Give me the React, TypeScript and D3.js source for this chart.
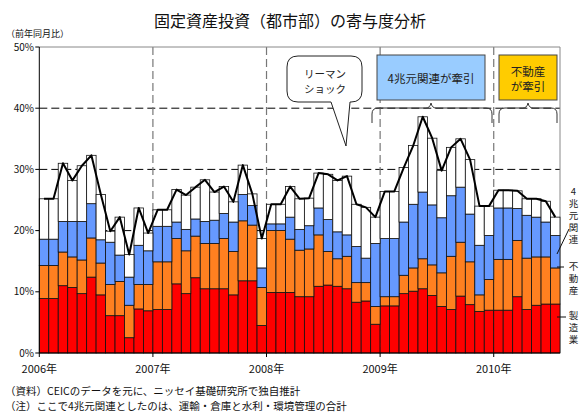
import React from 'react';
import * as d3 from 'd3';

// 年ラベル
const years = ['2006', '2007', '2008', '2009', '2010'];
const yearLabels = ['2006年', '2007年', '2008年', '2009年', '2010年'];
const yTicks = [0, 10, 20, 30, 40, 50];

// 寄与度（%ポイント）, 2006年1月〜2010年7月
const manufacturing = [
  8.9, 8.9, 11.0, 10.7, 9.7, 12.4, 9.5, 6.1, 6.1, 2.5, 7.2, 6.9,
  7.1, 7.1, 11.3, 9.7, 12.3, 10.5, 10.5, 10.5, 9.5, 11.8, 11.8, 4.5,
  9.9, 9.9, 9.9, 9.2, 9.2, 10.9, 11.1, 10.9, 10.5, 8.3, 8.5, 4.7,
  7.7, 7.7, 9.7, 10.1, 10.5, 9.4, 7.6, 7.1, 9.3, 7.9, 6.8, 7.0,
  7.0, 7.0, 9.2, 7.1, 7.8, 8.0, 8.0,
];
const realEstate = [
  5.4, 5.4, 5.5, 5.0, 5.5, 6.4, 5.2, 5.1, 5.6, 5.3, 4.0, 4.3,
  7.8, 7.8, 7.4, 7.0, 6.8, 7.4, 7.4, 8.2, 7.1, 9.8, 9.1, 6.2,
  10.1, 10.1, 8.7, 7.6, 7.8, 8.4, 5.5, 4.5, 5.3, 3.2, 3.0, 2.9,
  1.5, 1.5, 3.0, 3.8, 4.9, 5.0, 5.5, 8.7, 8.8, 7.0, 2.7, 5.0,
  8.3, 8.3, 9.2, 8.4, 7.9, 7.7, 5.9,
];
const fourTrillion = [
  4.3, 4.3, 5.0, 5.8, 6.3, 5.6, 3.8, 6.9, 4.3, 4.6, 6.4, 5.5,
  5.8, 5.8, 2.7, 3.5, 2.8, 3.6, 3.8, 4.1, 4.8, 4.3, 3.2, 3.2,
  1.1, 1.1, 3.6, 3.4, 3.8, 4.4, 5.2, 4.4, 3.5, 5.9, 4.0, 10.3,
  9.5, 9.5, 8.7, 10.4, 10.9, 9.8, 9.0, 9.9, 9.0, 7.8, 8.1, 7.2,
  8.4, 8.4, 5.2, 7.0, 6.5, 5.7, 5.3,
];
const other = [
  6.6, 6.6, 9.5, 6.7, 9.1, 7.9, 7.4, 1.8, 6.2, 3.7, 6.1, 2.9,
  2.7, 2.7, 5.3, 5.6, 5.2, 6.8, 4.6, 4.4, 3.3, 4.8, 1.9, 4.8,
  3.2, 3.2, 5.0, 5.0, 4.5, 5.7, 7.4, 8.4, 9.6, 6.9, 8.3, 4.3,
  7.7, 7.7, 8.9, 9.6, 12.3, 10.9, 7.7, 7.9, 7.9, 8.9, 6.4, 4.8,
  2.9, 2.9, 2.9, 2.7, 3.0, 3.4, 3.0,
];

const keys = ['manufacturing', 'realEstate', 'fourTrillion', 'other'];
const colors: Record<string, string> = {
  manufacturing: '#FF0000',
  realEstate: '#FF8020',
  fourTrillion: '#6699FF',
  other: '#FFFFFF',
};
// 右側の系列名（縦書き）
const sideLabels = [
  { text: '4兆元関連', y: 187 },
  { text: '不動産', y: 262 },
  { text: '製造業', y: 311 },
];

const months: string[] = [];
years.forEach((y) => {
  for (let m = 1; m <= 12; m++) months.push(`${y}-${m}`);
});
const monthKeys = months.slice(0, manufacturing.length);

const rows = monthKeys.map((k, i) => ({
  month: k,
  manufacturing: manufacturing[i],
  realEstate: realEstate[i],
  fourTrillion: fourTrillion[i],
  other: other[i],
}));

const FONT = '"Noto Sans CJK JP", "Noto Sans", sans-serif';

export default function App() {
  const width = 579;
  const height = 412;
  const margin = { top: 47, right: 19, bottom: 59, left: 39.3 };
  const plotRight = width - margin.right;
  const plotBottom = height - margin.bottom;

  const xScale = d3
    .scaleBand()
    .domain(monthKeys)
    .range([margin.left, plotRight])
    .padding(0);
  const yScale = d3.scaleLinear().domain([0, 50]).range([plotBottom, margin.top]);

  const stacked = d3.stack<any>().keys(keys)(rows);
  const totals = rows.map((r) => r.manufacturing + r.realEstate + r.fourTrillion + r.other);

  const line = d3
    .line<number>()
    .x((_, i) => (xScale(monthKeys[i]) as number) + xScale.bandwidth() / 2)
    .y((d) => yScale(d));

  const yearX = years.map((y) => xScale(`${y}-1`) as number);

  // 吹き出し
  const bx0 = 287, by0 = 56, bx1 = 362, by1 = 102, br = 11;
  const bubble = `M${bx0 + br},${by0} H${bx1 - br} Q${bx1},${by0} ${bx1},${by0 + br} V${by1 - br} Q${bx1},${by1} ${bx1 - br},${by1} H350 L346,146 L331,${by1} H${bx0 + br} Q${bx0},${by1} ${bx0},${by1 - br} V${by0 + br} Q${bx0},${by0} ${bx0 + br},${by0} Z`;

  const brace = (a: number, b: number, c: number, y: number) =>
    `M${a},${y + 15} L${a},${y + 6} Q${a},${y} ${a + 6},${y} L${c - 5},${y} Q${c - 1},${y} ${c},${y - 5} Q${c + 1},${y} ${c + 5},${y} L${b - 6},${y} Q${b},${y} ${b},${y + 6} L${b},${y + 15}`;

  return (
    <svg width={width} height={height} style={{ display: 'block', position: 'absolute', left: 0, top: 0 }} fontFamily={FONT}>
      <rect width={width} height={height} fill="#fff" />
      <text x={290} y={27} textAnchor="middle" fontSize={16} fill="#111">
        固定資産投資（都市部）の寄与度分析
      </text>
      <text x={6} y={37} fontSize={9} fill="#111">
        （前年同月比）
      </text>

      {/* 横グリッド */}
      {yTicks.filter((t) => t > 0 && t < 50).map((t) => (
        <line key={t} x1={margin.left} x2={plotRight} y1={yScale(t)} y2={yScale(t)} stroke="#000" strokeWidth={1} strokeDasharray="8,4" />
      ))}
      {/* 年の区切り */}
      {yearX.slice(1).map((x, i) => (
        <line key={i} x1={x} x2={x} y1={margin.top} y2={plotBottom} stroke="#777" strokeWidth={1.2} strokeDasharray="8,4" />
      ))}
      <line x1={margin.left} x2={plotRight} y1={margin.top} y2={margin.top} stroke="#888" />
      <line x1={plotRight} x2={plotRight} y1={margin.top} y2={plotBottom} stroke="#888" />

      {/* 積み上げ棒 */}
      {stacked.map((s) => (
        <g key={s.key} fill={colors[s.key]}>
          {s.map((d, i) => (
            <rect
              key={i}
              x={xScale(monthKeys[i])}
              y={yScale(d[1])}
              width={xScale.bandwidth()}
              height={yScale(d[0]) - yScale(d[1])}
              stroke="#111"
              strokeWidth={0.8}
            />
          ))}
        </g>
      ))}

      <path d={line(totals) || ''} fill="none" stroke="#000" strokeWidth={2} strokeLinejoin="round" />

      {/* 軸 */}
      <line x1={margin.left} x2={margin.left} y1={margin.top} y2={plotBottom} stroke="#000" />
      <line x1={margin.left} x2={plotRight} y1={plotBottom} y2={plotBottom} stroke="#000" />
      {yTicks.map((t) => (
        <g key={t}>
          <line x1={margin.left - 4} x2={margin.left} y1={yScale(t)} y2={yScale(t)} stroke="#000" />
          <text x={34} y={yScale(t)} dy="0.35em" textAnchor="end" fontSize={10} fill="#111">
            {t}%
          </text>
        </g>
      ))}
      {yearX.map((x, i) => (
        <g key={i}>
          <line x1={x} x2={x} y1={plotBottom} y2={plotBottom + 4} stroke="#000" />
          <text x={x} y={373} textAnchor="middle" fontSize={11} fill="#111">
            {yearLabels[i]}
          </text>
        </g>
      ))}

      {/* 注記 */}
      <path d={bubble} fill="#fff" stroke="#222" strokeWidth={1} />
      <text x={325} y={78} textAnchor="middle" fontSize={10.5} fill="#222">リーマン</text>
      <text x={325} y={93} textAnchor="middle" fontSize={10.5} fill="#222">ショック</text>

      <rect x={377} y={55} width={108} height={45} fill="#99CCFF" stroke="#444" strokeWidth={1} />
      <text x={431} y={83} textAnchor="middle" fontSize={11.5} fill="#222">4兆元関連が牽引</text>
      <path d={brace(372, 492, 431, 108)} fill="none" stroke="#333" strokeWidth={1} />

      <rect x={499} y={55} width={58} height={45} fill="#FFCC00" stroke="#444" strokeWidth={1} />
      <text x={528} y={76} textAnchor="middle" fontSize={11.5} fill="#222">不動産</text>
      <text x={528} y={91} textAnchor="middle" fontSize={11.5} fill="#222">が牽引</text>
      <path d={brace(499, 557, 528, 108)} fill="none" stroke="#333" strokeWidth={1} />

      {/* 右側ラベル */}
      <line x1={557} y1={254} x2={569} y2={229} stroke="#111" />
      <line x1={557} y1={267} x2={564} y2={267} stroke="#111" />
      <line x1={557} y1={317} x2={566} y2={317} stroke="#111" />
      {sideLabels.map((l) => (
        <text
          key={l.text}
          x={573.5}
          y={l.y}
          fontSize={9.5}
          fill="#222"
          style={{ writingMode: 'vertical-rl', textOrientation: 'upright', letterSpacing: '2.5px' }}
        >
          {l.text}
        </text>
      ))}

      <text x={5} y={394.5} fontSize={10.5} fill="#111">（資料）CEICのデータを元に、ニッセイ基礎研究所で独自推計</text>
      <text x={5} y={410} fontSize={10.5} fill="#111">（注）ここで4兆元関連としたのは、運輸・倉庫と水利・環境管理の合計</text>
    </svg>
  );
}
